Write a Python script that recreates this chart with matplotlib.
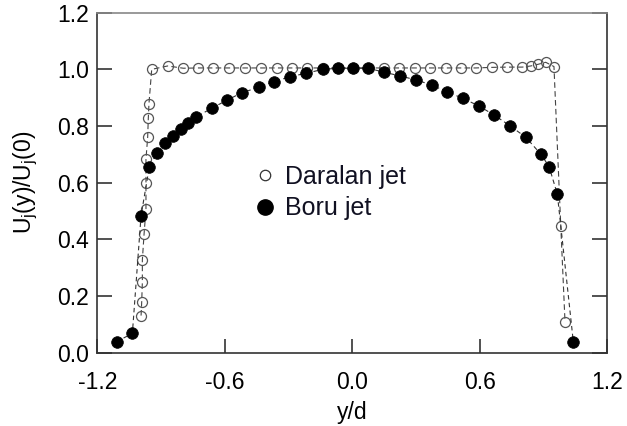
import matplotlib
matplotlib.use("Agg")
import matplotlib.pyplot as plt
from matplotlib.lines import Line2D

plt.rcParams['font.family'] = ['Liberation Sans', 'DejaVu Sans']

# Daralan jet (open circles)
daralan_x = [-0.994, -0.991, -0.988, -0.988, -0.980, -0.971, -0.971, -0.971, -0.963, -0.960, -0.957,
             -0.944, -0.869, -0.795, -0.725, -0.654, -0.579, -0.505, -0.430, -0.356, -0.283, -0.215,
             -0.139, -0.067, 0.005, 0.077, 0.149, 0.220, 0.295, 0.366, 0.440, 0.512, 0.581, 0.656,
             0.729, 0.800, 0.840, 0.875, 0.910, 0.949, 0.981, 1.001]
daralan_y = [0.131, 0.180, 0.248, 0.327, 0.418, 0.506, 0.598, 0.683, 0.760, 0.827, 0.878,
             1.000, 1.012, 1.004, 1.005, 1.005, 1.005, 1.005, 1.005, 1.005, 1.005, 1.005,
             1.005, 1.005, 1.005, 1.005, 1.005, 1.005, 1.005, 1.005, 1.005, 1.005, 1.005, 1.007,
             1.008, 1.008, 1.012, 1.018, 1.025, 1.010, 0.448, 0.109]

# Boru jet (filled circles)
boru_x = [-1.109, -1.035, -0.994, -0.955, -0.920, -0.881, -0.845, -0.806, -0.771, -0.737, -0.661,
          -0.588, -0.518, -0.439, -0.367, -0.293, -0.219, -0.139, -0.066, 0.005, 0.075, 0.149,
          0.224, 0.298, 0.374, 0.444, 0.520, 0.595, 0.667, 0.742, 0.817, 0.888, 0.926, 0.965, 1.040]
boru_y = [0.039, 0.068, 0.484, 0.657, 0.704, 0.739, 0.766, 0.791, 0.812, 0.831, 0.863,
          0.892, 0.918, 0.937, 0.957, 0.974, 0.986, 1.000, 1.004, 1.004, 1.004, 0.990,
          0.977, 0.963, 0.945, 0.921, 0.898, 0.871, 0.839, 0.801, 0.760, 0.700, 0.657, 0.559, 0.039]

x_ticks = [-1.2, -0.6, 0.0, 0.6, 1.2]
y_ticks = [0.0, 0.2, 0.4, 0.6, 0.8, 1.0, 1.2]
series_labels = ["Daralan jet", "Boru jet"]

fig = plt.figure(figsize=(6.27, 4.26), dpi=100)
ax = fig.add_axes([97.3/627, 1 - 352.7/426, 510/627, 340/426])

ax.plot(daralan_x, daralan_y, linestyle=(0, (5, 3)), color='#444444', linewidth=0.8,
        marker='o', markersize=7.2, markerfacecolor='none', markeredgecolor='#555555',
        markeredgewidth=0.9, zorder=2)
ax.plot(boru_x, boru_y, linestyle=(0, (4, 3)), color='#333333', linewidth=0.8,
        marker='o', markersize=8.4, markerfacecolor='black', markeredgecolor='black',
        markeredgewidth=0.5, zorder=3)

ax.set_xlim(-1.2, 1.2)
ax.set_ylim(0.0, 1.2)
ax.set_xticks(x_ticks)
ax.set_xticklabels([f"{v:.1f}" for v in x_ticks])
ax.set_yticks(y_ticks)
ax.set_yticklabels([f"{v:.1f}" for v in y_ticks])

ax.tick_params(axis='both', direction='in', labelsize=16.5, width=1.2, color='#333333')
ax.tick_params(axis='y', length=11, pad=6, right=True)
ax.tick_params(axis='x', length=10, pad=13)
for side in ['left', 'bottom', 'right']:
    ax.spines[side].set_color('#333333')
    ax.spines[side].set_linewidth(1.2)
ax.spines['top'].set_color('#888888')
ax.spines['top'].set_linewidth(1.2)

ax.set_xlabel("y/d", fontsize=16.5, labelpad=5)
ax.set_ylabel(r"U$_\mathregular{j}$(y)/U$_\mathregular{j}$(0)", fontsize=16.5)
ax.yaxis.set_label_coords(-0.112, 0.5)

handles = [Line2D([], [], linestyle='none', marker='o', markersize=7.5, markerfacecolor='none',
                  markeredgecolor='#333333', markeredgewidth=0.9),
           Line2D([], [], linestyle='none', marker='o', markersize=11, markerfacecolor='black',
                  markeredgecolor='black')]
leg = ax.legend(handles, series_labels, loc='center left', bbox_to_anchor=(0.304, 0.471),
                frameon=False, fontsize=18, handlelength=1.0, handletextpad=0.3,
                borderpad=0, borderaxespad=0, labelspacing=0.3, labelcolor='#111122')

fig.savefig("out.png", dpi=100)
